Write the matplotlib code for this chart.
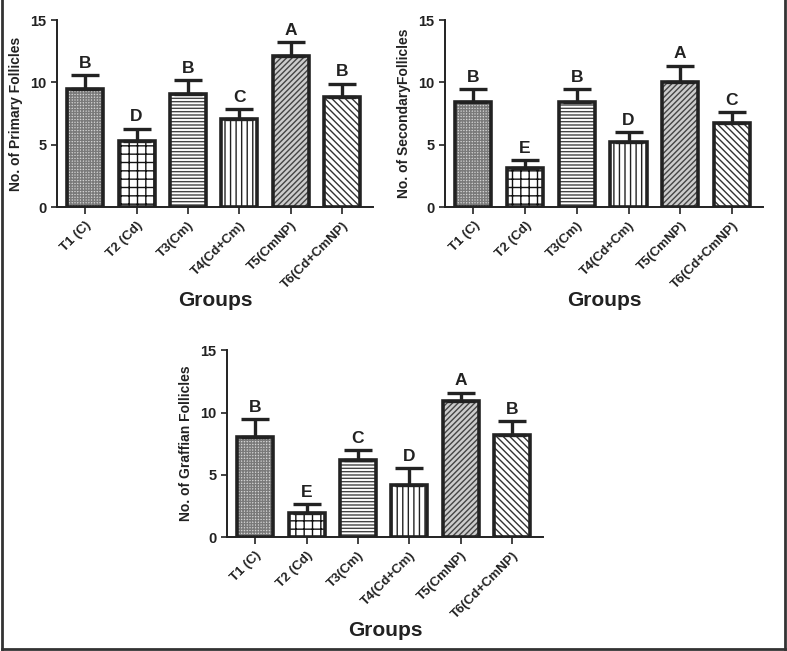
import numpy as np
import matplotlib
matplotlib.use("Agg")
import matplotlib.pyplot as plt
from matplotlib.lines import Line2D

plt.rcParams['font.family'] = ['Liberation Sans', 'DejaVu Sans']
plt.rcParams['font.weight'] = 'bold'
plt.rcParams['hatch.linewidth'] = 1.0

groups = ['T1 (C)', 'T2 (Cd)', 'T3(Cm)', 'T4(Cd+Cm)', 'T5(CmNP)', 'T6(Cd+CmNP)']

primary = [9.5, 5.3, 9.05, 7.1, 12.15, 8.8]
primary_err = [1.1, 1.0, 1.15, 0.75, 1.1, 1.1]
primary_let = ['B', 'D', 'B', 'C', 'A', 'B']

secondary = [8.45, 3.1, 8.45, 5.2, 10.05, 6.75]
secondary_err = [1.0, 0.65, 1.0, 0.8, 1.3, 0.85]
secondary_let = ['B', 'E', 'B', 'D', 'A', 'C']

graffian = [8.05, 1.95, 6.15, 4.2, 10.9, 8.2]
graffian_err = [1.4, 0.7, 0.85, 1.35, 0.7, 1.1]
graffian_let = ['B', 'E', 'C', 'D', 'A', 'B']

# hatch, hatch colour, face colour per group
hatches = ['++++++', '++', '-----', '|||', '//////', '\\\\\\\\\\']
hcolors = ['#7a7a7a', '#111111', '#444444', '#222222', '#444444', '#333333']
faces = ['#d4d4d4', 'white', 'white', 'white', '#cccccc', 'white']


def panel(ax, vals, errs, lets, ylab):
    x = np.arange(len(vals))
    # pattern layer
    for xi, v, h, hc, fc in zip(x, vals, hatches, hcolors, faces):
        ax.bar(xi, v, width=0.7, color=fc, edgecolor=hc, hatch=h, linewidth=0)
    # outline
    ax.bar(x, vals, width=0.7, fill=False, edgecolor='#222222', linewidth=2.6)
    ax.errorbar(x, vals, yerr=[np.zeros(len(vals)), errs], fmt='none',
                ecolor='#222222', elinewidth=2.4, capsize=10, capthick=2.4)
    for xi, v, e, l in zip(x, vals, errs, lets):
        ax.text(xi, v + e + 0.35, l, ha='center', va='bottom',
                fontsize=12.5, fontweight='bold', color='#222222')
    ax.set_xlim(-0.55, 5.6)
    ax.set_ylim(0, 15)
    ax.set_yticks([0, 5, 10, 15])
    ax.set_xticks(x)
    ax.set_xticklabels(groups, rotation=45, ha='right', rotation_mode='anchor',
                       fontsize=9.5, fontweight='bold', color='#222222')
    ax.tick_params(axis='y', labelsize=10.5, colors='#222222', length=4, width=1.2)
    ax.tick_params(axis='x', length=5, width=1.2, colors='#222222', pad=4)
    for s in ['top', 'right']:
        ax.spines[s].set_visible(False)
    for s in ['left', 'bottom']:
        ax.spines[s].set_linewidth(1.4)
        ax.spines[s].set_color('#222222')
    ax.set_ylabel(ylab, fontsize=10, fontweight='bold', color='#222222', labelpad=5)
    ax.set_xlabel('Groups', fontsize=15, fontweight='bold', color='#222222', labelpad=0)


fig = plt.figure(figsize=(7.87, 6.51), dpi=100)
ax1 = fig.add_axes([0.0724, 0.682, 0.4015, 0.287])
ax2 = fig.add_axes([0.5654, 0.682, 0.404, 0.287])
ax3 = fig.add_axes([0.2884, 0.175, 0.4015, 0.287])

panel(ax1, primary, primary_err, primary_let, 'No. of Primary Follicles')
panel(ax2, secondary, secondary_err, secondary_let, 'No. of SecondaryFollicles')
panel(ax3, graffian, graffian_err, graffian_let, 'No. of Graffian Follicles')

# outer frame (left, right, bottom)
fig.add_artist(Line2D([0.002, 0.002], [0.003, 1.0], color='#333333', lw=2))
fig.add_artist(Line2D([0.998, 0.998], [0.003, 1.0], color='#333333', lw=2))
fig.add_artist(Line2D([0.002, 0.998], [0.003, 0.003], color='#333333', lw=2))

fig.savefig('out.png', dpi=100)
